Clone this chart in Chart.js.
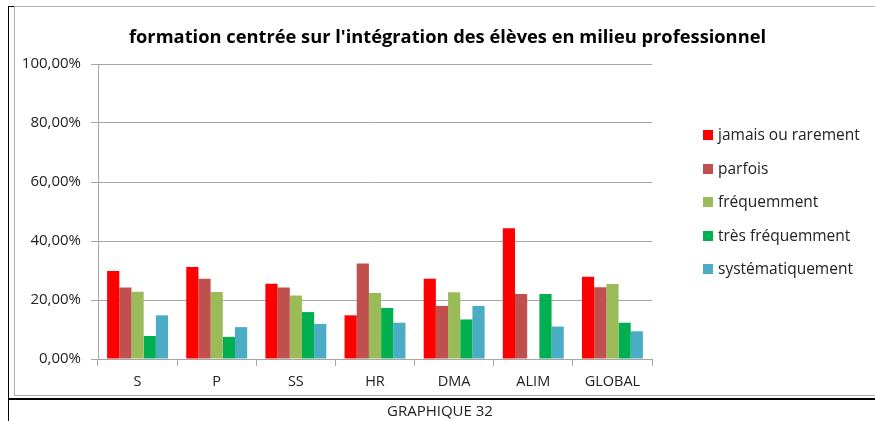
<!DOCTYPE html>
<html>
<head>
<meta charset="utf-8">
<script src="https://cdn.jsdelivr.net/npm/chart.js@4"></script>
<style>
  body { margin: 0; background: #fff; }
  #wrap { position: relative; width: 875px; height: 421px; overflow: hidden; font-family: "Open Sans", sans-serif; }
  #wrap canvas { position: absolute; left: 0; top: 0; }
  .ln { position: absolute; }
  #title { position: absolute; left: 0; width: 895px; top: 23px; text-align: center; font-weight: bold; font-size: 18.3px; color: #000; }
  #legend { position: absolute; left: 703px; top: 123px; font-size: 15.5px; color: #222; }
  #legend div { height: 33.5px; line-height: 22px; white-space: nowrap; }
  #legend span { display: inline-block; width: 10px; height: 10px; margin-right: 5px; vertical-align: 0px; }
  #caption { position: absolute; left: 0; width: 880px; top: 400px; text-align: center; font-size: 15px; color: #222; }
</style>
</head>
<body>
<div id="wrap">
  <canvas id="myChart" width="875" height="421"></canvas>
  <div class="ln" style="left:14px;top:6px;width:861px;height:1px;background:#b0b0b0"></div>
  <div class="ln" style="left:14px;top:6px;width:1px;height:390px;background:#b0b0b0"></div>
  <div class="ln" style="left:14px;top:395px;width:861px;height:1px;background:#b0b0b0"></div>
  <div class="ln" style="left:8px;top:6px;width:6px;height:1px;background:#000"></div>
  <div class="ln" style="left:8px;top:6px;width:1px;height:415px;background:#000"></div>
  <div class="ln" style="left:8px;top:398px;width:867px;height:1.5px;background:#000"></div>
  <div id="title">formation centrée sur l'intégration des élèves en milieu professionnel</div>
  <div id="legend"></div>
  <div id="caption">GRAPHIQUE 32</div>
</div>
<script>
const categories = ["S", "P", "SS", "HR", "DMA", "ALIM", "GLOBAL"];
const seriesNames = ["jamais ou rarement", "parfois", "fréquemment", "très fréquemment", "systématiquement"];
const jamais = [29.8, 31.2, 25.5, 14.8, 27.2, 44.3, 27.9];
const parfois = [24.2, 27.2, 24.2, 32.4, 18.0, 22.0, 24.3];
const frequemment = [22.8, 22.7, 21.5, 22.4, 22.6, 0, 25.4];
const tresFrequemment = [7.8, 7.5, 15.9, 17.3, 13.4, 22.0, 12.3];
const systematiquement = [14.8, 10.8, 11.9, 12.3, 18.0, 11.0, 9.4];
const yTicks = [0, 20, 40, 60, 80, 100];
const colors = ["#ff0000", "#c0504d", "#9bbb59", "#00b050", "#4bacc6"];

const values = [jamais, parfois, frequemment, tresFrequemment, systematiquement];

const legend = document.getElementById("legend");
seriesNames.forEach((name, i) => {
  const row = document.createElement("div");
  row.innerHTML = '<span style="background:' + colors[i] + '"></span>' + name;
  legend.appendChild(row);
});

const ctx = document.getElementById("myChart");
const myChart = new Chart(ctx, {
  type: "bar",
  data: {
    labels: categories,
    datasets: values.map((v, i) => {
      return {
        label: seriesNames[i],
        data: v,
        backgroundColor: colors[i],
        borderWidth: 0,
        categoryPercentage: 0.77,
        barPercentage: 1,
      };
    }),
  },
  options: {
    responsive: false,
    animation: false,
    layout: { padding: { left: 0, top: 64, right: 223, bottom: 0 } },
    plugins: {
      legend: { display: false },
      title: { display: false },
      tooltip: { enabled: false },
    },
    scales: {
      x: {
        grid: { drawOnChartArea: false, drawTicks: true, tickLength: 7, color: "#a6a6a6", offset: true },
        border: { color: "#a6a6a6" },
        ticks: { color: "#222", font: { family: "Open Sans", size: 14.5 }, padding: 7 },
        afterFit: (scale) => { scale.height = 62; },
      },
      y: {
        min: 0,
        max: 100,
        afterBuildTicks: (scale) => { scale.ticks = yTicks.map((v) => ({ value: v })); },
        grid: { color: "#a6a6a6", tickLength: 7 },
        border: { color: "#a6a6a6" },
        ticks: {
          color: "#222",
          font: { family: "Open Sans", size: 15 },
          padding: 10,
          callback: (v) => v.toFixed(2).replace(".", ",") + "%",
        },
        afterFit: (scale) => { scale.width = 98; },
      },
    },
  },
});
</script>
</body>
</html>
